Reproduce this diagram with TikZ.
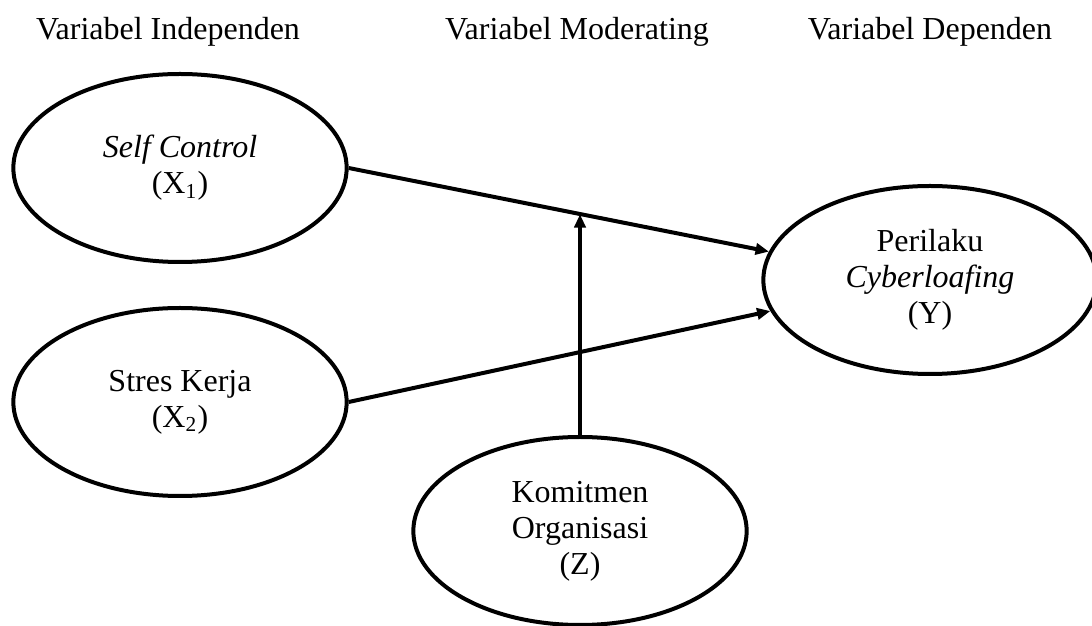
\documentclass[tikz,border=0pt]{standalone}
\usepackage{fontspec}
\setmainfont{Liberation Serif}
\usepackage{tikz}
\usetikzlibrary{arrows.meta,positioning,shapes.geometric,calc}

\begin{document}
\begin{tikzpicture}[
    x=0.375pt, y=-0.375pt,
    font=\fontsize{12pt}{13.5pt}\selectfont,
    var/.style={draw, ellipse, line width=1.5pt, align=center, inner sep=0pt, minimum width=125pt, minimum height=70.5pt},
    arrow/.style={-{Triangle[length=5pt,width=4.2pt]}, line width=1.5pt},
    head/.style={anchor=base}
]
\useasboundingbox (0,0) rectangle (1092,626);
\node[head] (hx) at (168,40) {Variabel Independen};
\node[head] (hz) at (577,40) {Variabel Moderating};
\node[head] (hy) at (930,40) {Variabel Dependen};
\node[var] (x1) at (180,168) {\textit{Self Control}\\(X\textsubscript{1})};
\node[var] (x2) at (180,402) {Stres Kerja\\(X\textsubscript{2})};
\node[var] (y) at (930,280) {Perilaku\\\textit{Cyberloafing}\\(Y)};
\node[var] (z) at (580,531) {Komitmen\\Organisasi\\(Z)};
\draw[arrow] (x1.east) -- (y.170) coordinate[pos=0.553] (m);
\draw[arrow] (x2.east) -- (y.191);
\draw[arrow] (z.north) -- (z.north |- m);
\end{tikzpicture}
\end{document}
